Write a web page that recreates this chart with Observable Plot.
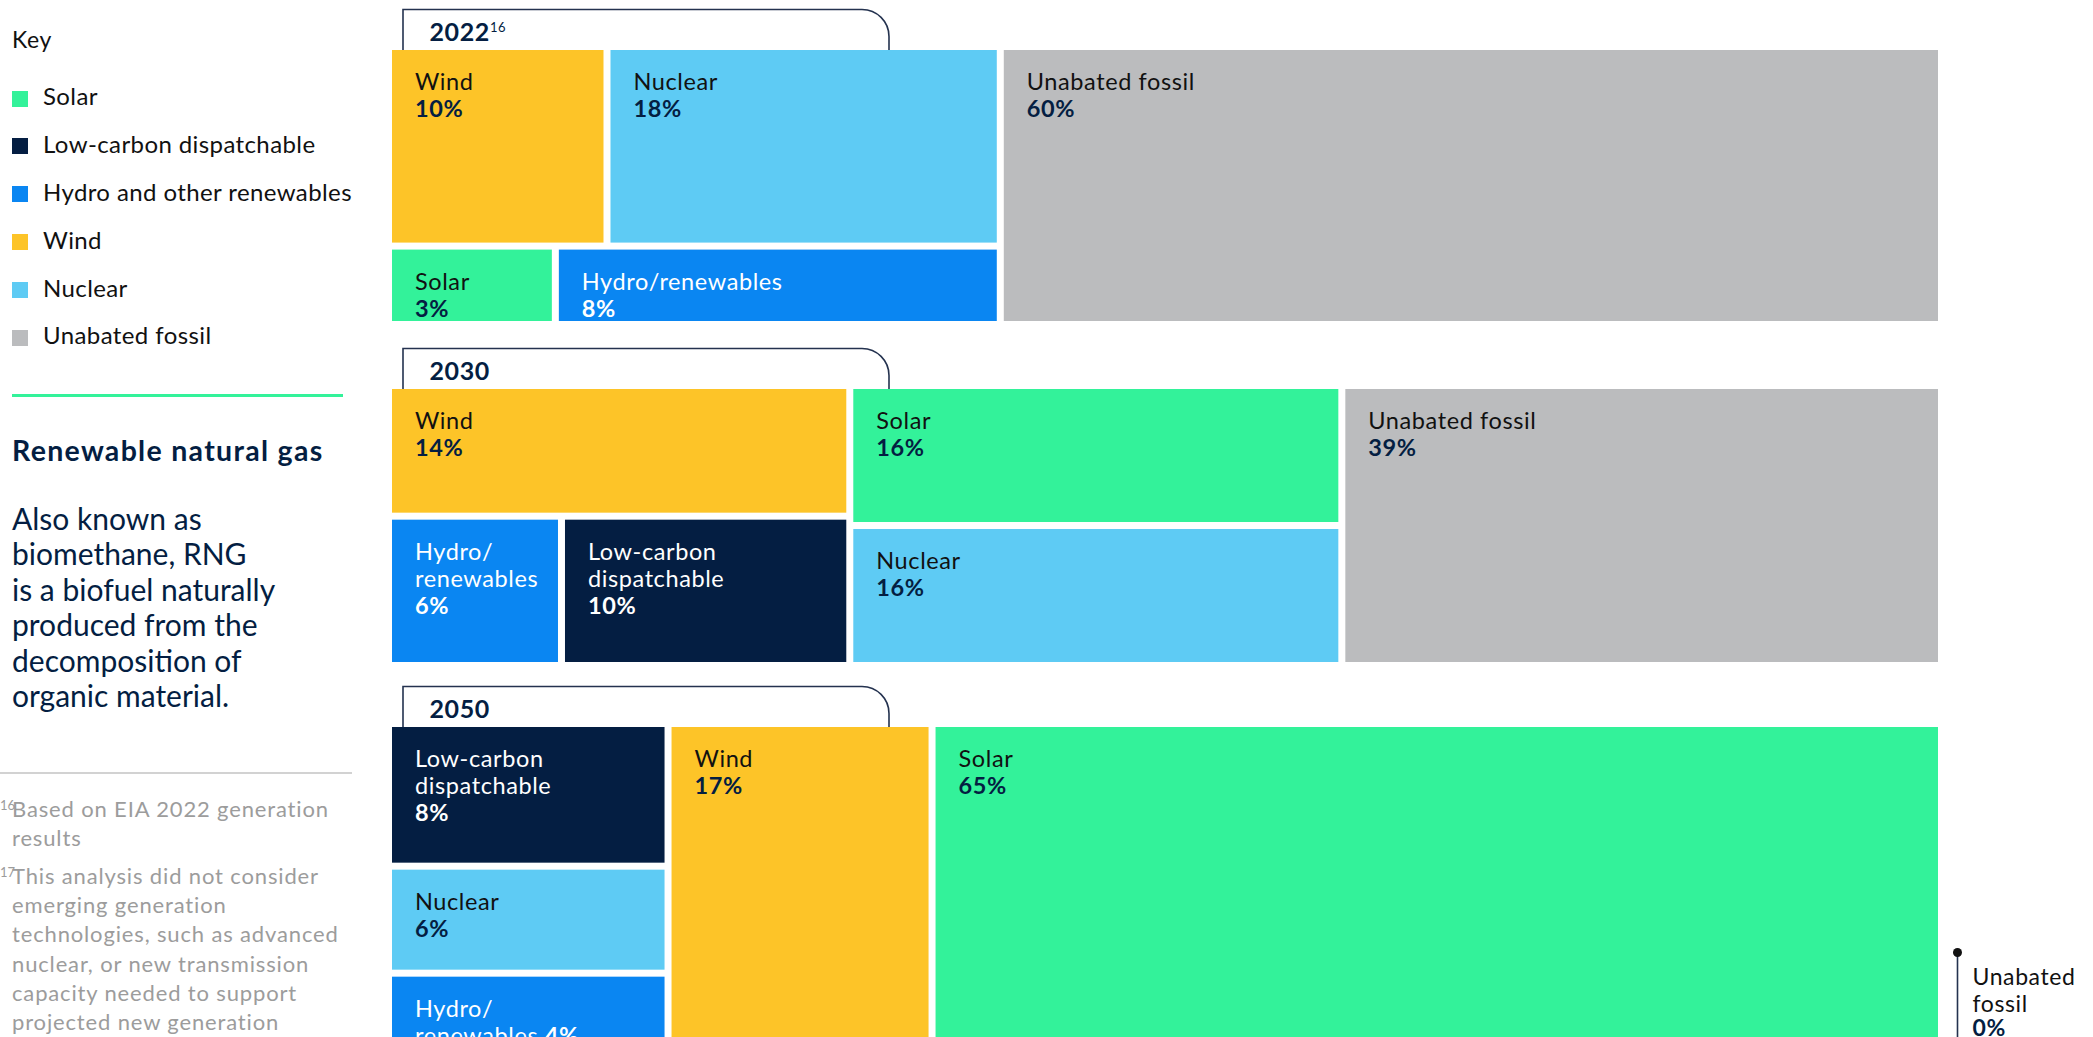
<!DOCTYPE html>
<html><head><meta charset="utf-8">
<script src="https://cdn.jsdelivr.net/npm/d3@7"></script>
<script src="https://cdn.jsdelivr.net/npm/@observablehq/plot@0.6"></script>
<style>
html,body{margin:0;padding:0;background:#fff;overflow:hidden;width:2093px;height:1037px;}
body{font-family:Lato,"Noto Sans",sans-serif;position:relative;}
#chart{position:absolute;left:0;top:0;z-index:0;}
#side{position:absolute;left:0;top:0;width:370px;height:1037px;z-index:1;}
.abs{position:absolute;white-space:nowrap;}
</style></head><body>
<div id="chart"></div>
<div id="side"></div>
<script>
// ---------------- data ----------------
const sources = ["Solar", "Low-carbon dispatchable", "Hydro and other renewables", "Wind", "Nuclear", "Unabated fossil"];
const sourceColors = ["#33f29a", "#041e42", "#0a86f2", "#fdc428", "#5ecbf4", "#bbbcbe"];
const years = ["2022", "2030", "2050"];
const yearNotes = ["16", "", ""];
// shares (%) in the order of `sources`
const shares2022 = [3, 0, 8, 10, 18, 60];
const shares2030 = [16, 10, 6, 14, 16, 39];
const shares2050 = [65, 8, 4, 17, 6, 0];
const tileNames = ["Solar", "Low-carbon\ndispatchable", "Hydro/\nrenewables", "Wind", "Nuclear", "Unabated fossil"];
const darkSources = ["Low-carbon dispatchable", "Hydro and other renewables"];
const keyTitle = "Key";
const sideHeading = "Renewable natural gas";
const sideText = ["Also known as", "biomethane, RNG", "is a biofuel naturally", "produced from the", "decomposition of", "organic material."];
const footnoteNums = ["16", "17"];
const footnoteLines = [
  ["Based on EIA 2022 generation", "results"],
  ["This analysis did not consider", "emerging generation", "technologies, such as advanced", "nuclear, or new transmission", "capacity needed to support", "projected new generation"]
];

// ---------------- layout (structure of each year's block) ----------------
const shareByYear = [shares2022, shares2030, shares2050];
const arrangements = [
  [[["Wind", "Nuclear"], ["Solar", "Hydro and other renewables"]], "Unabated fossil"],
  [["Wind", ["Hydro and other renewables", "Low-carbon dispatchable"]], ["Solar", "Nuclear"], "Unabated fossil"],
  [["Low-carbon dispatchable", "Nuclear", "Hydro and other renewables"], "Wind", "Solar", "Unabated fossil"]
];
const blockTop = [46.5, 385.5, 723.5];
const blockHeight = [278, 280, 321];
const XR = [388.5, 1941.5];
const NAVY = "#041e42";
const FS = 23.5, LH = 27, DX = 26, DY = 3.5 + 37 - 0.71 * 23.5;
const LS = 0.6; // letter spacing in the chart

const canvas = document.createElement("canvas").getContext("2d");
function measure(text, font, ls = 0) { canvas.font = font; return canvas.measureText(text).width + ls * text.length; }

const tiles = [];
years.forEach((year, i) => {
  const shares = shareByYear[i];
  const root = d3.hierarchy(arrangements[i], d => Array.isArray(d) ? d : undefined)
    .sum(d => typeof d === "string" ? shares[sources.indexOf(d)] : 0);
  d3.treemap().tile(d3.treemapSliceDice).size([100, blockHeight[i]]).round(false)(root);
  for (const leaf of root.leaves()) {
    const source = leaf.data;
    const k = sources.indexOf(source);
    const pxW = (leaf.x1 - leaf.x0) / 100 * (XR[1] - XR[0]);
    const pxH = leaf.y1 - leaf.y0;
    let label = tileNames[k];
    if (label.includes("/\n") && pxW > 300) label = label.replace("/\n", "/");
    const nLines = label.split("\n").length;
    tiles.push({
      year, source, value: shares[k],
      x0: leaf.x0, x1: leaf.x1, y0: blockTop[i] + leaf.y0, y1: blockTop[i] + leaf.y1,
      label, valueText: shares[k] + "%", nLines,
      inline: nLines >= 2 && pxH < 100,
      dark: darkSources.includes(source)
    });
  }
});
const shown = tiles.filter(d => d.value > 0);
const zeros = tiles.filter(d => d.value === 0).map(d => ({...d, label: d.source.replace(" ", "\n")}));
const yearRows = years.map((y, i) => ({year: y, note: yearNotes[i], x0: 0, top: blockTop[i]}));

const inlineTile = shown.find(d => d.inline);
const inlineOffset = inlineTile ? measure(inlineTile.label.split("\n").pop() + " ", `400 ${FS}px Lato`, LS) : 0;
const yearW = measure("2022", "700 25px Lato", LS);

function tabs(index, scales) {
  const g = d3.create("svg:g").attr("fill", "none").attr("stroke", "#24324f").attr("stroke-width", 1.6);
  yearRows.forEach(r => {
    const left = scales.x(r.x0) + 14.5, right = left + 486;
    const bottom = scales.y(r.top) + 3.5, top = scales.y(r.top) - 37, rad = 27;
    g.append("path").attr("d", `M${left},${bottom}V${top}H${right - rad}A${rad},${rad} 0 0 1 ${right},${top + rad}V${bottom}`);
  });
  return g.node();
}

const T = (filter, text, opts) => Plot.text(shown, {filter, x: "x0", y: "y0", text, textAnchor: "start", lineAnchor: "top", fontSize: FS, lineHeight: LH / FS, dx: DX, ...opts});

const marks = [
  tabs,
  Plot.rect(shown, {x1: "x0", x2: "x1", y1: "y0", y2: "y1", fill: "source", inset: 3.5}),
  T(d => !d.dark, "label", {dy: DY, fill: "#111"}),
  T(d => d.dark, "label", {dy: DY, fill: "#fff"})
];
for (const n of [1, 2]) for (const dark of [false, true]) {
  marks.push(T(d => !d.inline && d.nLines === n && d.dark === dark, "valueText", {dy: DY + LH * n, fill: dark ? "#fff" : NAVY, fontWeight: 700}));
}
marks.push(T(d => d.inline, "valueText", {dy: DY + LH * ((inlineTile ? inlineTile.nLines : 1) - 1), dx: DX + inlineOffset, fill: "#fff", fontWeight: 700}));
// year labels
marks.push(Plot.text(yearRows, {x: "x0", y: "top", text: "year", textAnchor: "start", lineAnchor: "bottom", dx: 40.5, dy: -6.5, fontSize: 25, fontWeight: 700, fill: NAVY}));
marks.push(Plot.text(yearRows, {x: "x0", y: "top", text: "note", textAnchor: "start", lineAnchor: "bottom", dx: 40.5 + yearW, dy: -15.5, fontSize: 13, fill: NAVY}));
// zero-share annotation
marks.push(Plot.ruleX(zeros, {x: "x0", y1: "y0", y2: "y1", dx: 15.5, dy: 228.5, stroke: "#24324f", strokeWidth: 1.6}));
marks.push(Plot.dot(zeros, {x: "x0", y: "y0", dx: 15.5, dy: 228.5, r: 4.5, fill: "#111", stroke: "none"}));
marks.push(Plot.text(zeros, {x: "x0", y: "y0", text: "label", textAnchor: "start", lineAnchor: "top", dx: 30.5, dy: 241, fontSize: 23, lineHeight: 27.5 / 23, fill: "#111"}));
marks.push(Plot.text(zeros, {x: "x0", y: "y0", text: "valueText", textAnchor: "start", lineAnchor: "top", dx: 30.5, dy: 241 + 55, fontSize: 23, fontWeight: 700, fill: NAVY}));

const chart = Plot.plot({
  width: 2093, height: 1037, margin: 0,
  style: {fontFamily: "Lato, sans-serif", background: "transparent", letterSpacing: LS + "px"},
  x: {domain: [0, 100], range: XR, axis: null},
  y: {domain: [0, 1037], range: [0, 1037], axis: null},
  color: {domain: sources, range: sourceColors},
  marks
});
document.getElementById("chart").append(chart);

// ---------------- side panel ----------------
const side = document.getElementById("side");
function addDiv(html, css) { const d = document.createElement("div"); d.className = "abs"; d.innerHTML = html; d.style.cssText += css; side.append(d); return d; }
addDiv(keyTitle, `left:12px;top:${49 - 0.987 * 23}px;font-size:23px;letter-spacing:0.6px;line-height:1.2;color:#111;`);
sources.forEach((s, i) => {
  const base = 106 + 47.8 * i;
  addDiv("", `left:12px;top:${base - 15.5}px;width:16px;height:16px;background:${sourceColors[i]};`);
  addDiv(s, `left:43px;top:${base - 0.987 * 24}px;font-size:24px;letter-spacing:0.4px;line-height:1.2;color:#111;`);
});
addDiv("", `left:12px;top:394px;width:331px;height:3px;background:#33f29a;`);
addDiv(sideHeading, `left:12px;top:${461 - 0.987 * 28.5}px;font-size:28.5px;letter-spacing:1.3px;font-weight:700;line-height:1.2;color:${NAVY};`);
addDiv(sideText.join("<br>"), `left:12px;top:${530.6 - (0.35 + 0.987 * 30)}px;font-size:30px;line-height:35.5px;color:${NAVY};`);
addDiv("", `left:0px;top:772px;width:352px;height:1.5px;background:#d2d2d2;`);
const fnBase = [817, 884];
footnoteLines.forEach((lines, i) => {
  const top = fnBase[i] - ((29.3 - 1.2 * 22) / 2 + 0.987 * 22);
  addDiv(lines.join("<br>"), `left:12px;top:${top}px;font-size:22px;letter-spacing:0.85px;line-height:29.3px;color:#9c9c9c;`);
  addDiv(footnoteNums[i], `left:0px;top:${fnBase[i] - 6 - 0.987 * 13}px;font-size:13px;line-height:1.2;color:#9c9c9c;`);
});
</script>
</body></html>
